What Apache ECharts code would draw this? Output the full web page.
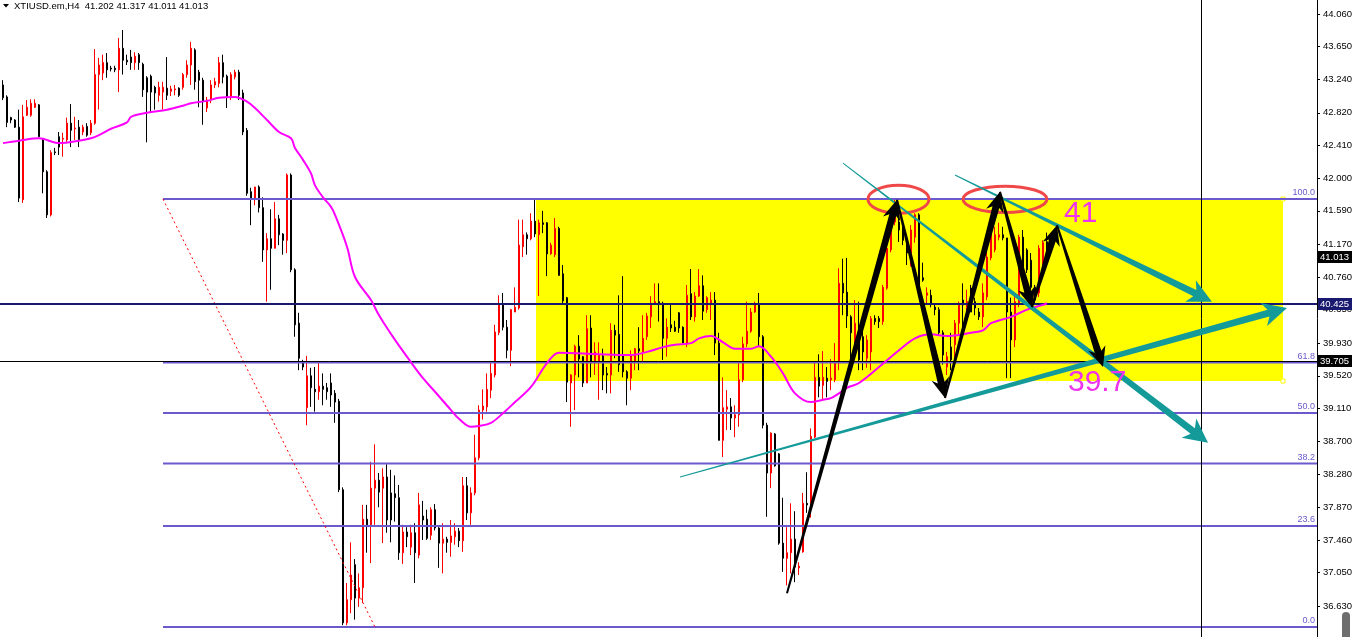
<!DOCTYPE html>
<html>
<head>
<meta charset="utf-8">
<title>XTIUSD.em,H4</title>
<script src="https://cdn.jsdelivr.net/npm/echarts@6.0.0/dist/echarts.min.js"></script>
<style>
html, body { margin: 0; padding: 0; background: #fff; }
#chart { width: 1352px; height: 637px; }
</style>
</head>
<body>
<div id="chart"></div>
<script>
// H4 bars (oldest first)
const opens = [
  43.17, 43.02, 42.76, 42.73, 42.64, 41.73, 42.79, 42.79, 42.89, 42.92,
  42.48, 42.08, 41.54, 42.33, 42.52, 42.49, 42.48, 42.69, 42.62, 42.64,
  42.58, 42.65, 42.57, 42.69, 43.30, 43.32, 43.45, 43.38, 43.38, 43.36,
  43.63, 43.48, 43.52, 43.45, 43.55, 43.43, 43.26, 43.28, 43.14, 43.04,
  43.08, 43.13, 43.09, 43.11, 43.13, 43.14, 43.30, 43.42, 43.61, 43.33,
  43.23, 42.88, 42.98, 43.17, 43.19, 43.45, 43.28, 43.02, 43.27, 43.33,
  43.07, 42.60, 41.83, 41.73, 41.89, 41.63, 41.10, 41.24, 41.12, 41.49,
  41.30, 41.22, 42.04, 40.85, 40.18, 39.69, 39.12, 39.52, 39.35, 39.32,
  39.39, 39.37, 39.43, 39.30, 39.20, 38.09, 36.42, 36.71, 37.15, 36.73,
  36.86, 37.72, 37.65, 38.11, 38.21, 38.11, 38.25, 38.05, 38.04, 37.99,
  37.30, 37.56, 37.37, 37.55, 37.27, 37.76, 37.72, 37.52, 37.84, 37.61,
  37.42, 37.47, 37.43, 37.50, 37.57, 37.45, 38.14, 37.80, 38.05, 38.49,
  39.09, 39.13, 39.34, 39.53, 40.06, 40.41, 40.13, 39.84, 40.32, 40.37,
  41.14, 41.29, 41.24, 41.46, 41.29, 41.44, 41.44, 41.05, 41.04, 41.37,
  40.80, 40.50, 39.43, 39.53, 39.89, 39.76, 39.43, 40.12, 39.68, 39.69,
  39.77, 39.55, 39.53, 40.09, 40.04, 39.77, 39.57, 39.49, 39.69, 39.86,
  39.82, 40.01, 40.26, 40.43, 40.45, 40.43, 39.99, 40.16, 40.13, 40.31,
  40.13, 39.93, 40.55, 40.26, 40.52, 40.65, 40.35, 40.43, 40.47, 39.93,
  38.71, 39.10, 39.13, 38.99, 39.03, 39.47, 39.92, 40.08, 40.32, 40.41,
  40.01, 38.90, 38.30, 38.79, 38.54, 37.42, 37.23, 37.30, 37.47, 37.11,
  37.31, 37.92, 37.90, 38.75, 39.50, 39.40, 39.49, 39.47, 39.47, 39.68,
  40.68, 40.57, 40.26, 39.97, 39.97, 40.01, 39.74, 39.82, 40.24, 40.24,
  40.20, 40.62, 41.10, 41.45, 41.45, 41.35, 41.22, 41.06, 41.26, 41.54,
  40.75, 40.53, 40.53, 40.38, 40.35, 40.06, 39.63, 39.88, 39.91, 40.18,
  40.47, 40.38, 40.62, 40.45, 40.32, 40.26, 40.51, 41.00, 41.10, 41.26,
  41.29, 41.25, 40.32, 39.97, 40.43, 41.26, 41.10, 40.97, 40.63, 40.56,
  40.95, 41.202
];
const closes = [
  43.01, 42.70, 42.73, 42.64, 41.75, 42.77, 42.89, 42.94, 42.94, 42.52,
  42.08, 41.54, 42.32, 42.32, 42.39, 42.50, 42.69, 42.60, 42.63, 42.48,
  42.64, 42.54, 42.69, 43.30, 43.42, 43.45, 43.36, 43.37, 43.36, 43.63,
  43.48, 43.46, 43.45, 43.53, 43.45, 43.11, 43.08, 43.08, 43.07, 43.14,
  43.14, 43.04, 43.12, 43.12, 43.04, 43.30, 43.42, 43.63, 43.21, 43.23,
  42.96, 42.98, 43.17, 43.21, 43.45, 43.27, 43.02, 43.30, 43.33, 43.04,
  42.58, 41.81, 41.75, 41.89, 41.63, 41.10, 41.24, 41.12, 41.49, 41.29,
  41.22, 42.04, 40.85, 40.16, 39.74, 39.63, 39.52, 39.37, 39.32, 39.39,
  39.35, 39.32, 39.28, 39.19, 38.09, 36.42, 36.71, 37.02, 36.73, 36.86,
  37.72, 37.65, 38.11, 38.21, 38.06, 38.25, 37.71, 37.71, 37.99, 37.30,
  37.56, 37.50, 37.55, 37.30, 37.90, 37.71, 37.48, 37.84, 37.61, 37.42,
  37.47, 37.43, 37.51, 37.57, 37.45, 38.14, 37.80, 38.05, 38.49, 39.09,
  39.14, 39.35, 39.55, 40.07, 40.41, 40.13, 39.84, 40.35, 40.38, 41.16,
  41.29, 41.24, 41.46, 41.30, 41.44, 41.42, 41.05, 41.16, 41.37, 40.78,
  40.46, 39.44, 39.53, 39.89, 39.73, 39.43, 40.11, 39.68, 39.82, 39.78,
  39.53, 39.53, 40.09, 40.03, 39.66, 39.57, 39.49, 39.77, 39.86, 39.83,
  39.99, 40.27, 40.43, 40.45, 40.43, 39.99, 40.13, 40.12, 40.08, 40.12,
  39.93, 40.53, 40.26, 40.52, 40.65, 40.33, 40.50, 40.47, 39.93, 38.71,
  39.12, 39.13, 38.99, 39.03, 39.47, 39.92, 40.08, 40.32, 40.41, 40.01,
  38.90, 38.30, 38.80, 38.39, 37.42, 37.23, 37.30, 37.47, 37.12, 37.13,
  37.92, 37.90, 38.76, 39.50, 39.39, 39.50, 39.45, 39.49, 39.68, 40.68,
  40.56, 40.27, 40.06, 40.18, 39.72, 39.82, 39.97, 40.24, 40.20, 40.20,
  40.63, 41.12, 41.48, 41.56, 41.35, 41.22, 41.06, 41.35, 41.54, 40.60,
  40.72, 40.56, 40.43, 40.35, 40.06, 39.78, 39.76, 39.72, 40.18, 40.43,
  40.41, 40.45, 40.32, 40.37, 40.26, 40.56, 41.01, 41.29, 41.29, 41.29,
  41.25, 40.32, 39.97, 40.45, 41.26, 40.88, 40.85, 40.63, 40.47, 41.12,
  41.19, 41.013
];
const lows = [
  42.98, 42.64, 42.69, 42.63, 41.70, 41.69, 42.78, 42.77, 42.88, 42.52,
  41.81, 41.50, 41.52, 42.29, 42.29, 42.27, 42.44, 42.39, 42.48, 42.39,
  42.54, 42.52, 42.54, 42.67, 42.86, 43.23, 43.26, 43.34, 43.33, 43.08,
  43.30, 43.42, 43.36, 43.36, 43.36, 43.02, 42.45, 42.82, 42.86, 42.96,
  42.86, 42.98, 43.03, 43.04, 43.02, 43.11, 43.26, 43.17, 43.11, 42.89,
  42.67, 42.83, 42.94, 43.13, 43.14, 43.19, 42.88, 42.98, 43.24, 42.98,
  42.54, 41.78, 41.41, 41.66, 41.57, 40.95, 40.45, 40.60, 41.12, 41.16,
  41.04, 41.06, 40.82, 40.01, 39.59, 39.59, 38.90, 39.13, 39.07, 39.22,
  39.15, 39.22, 39.13, 38.93, 38.06, 36.39, 36.39, 36.54, 36.46, 36.62,
  36.67, 37.30, 37.17, 37.65, 37.87, 37.42, 37.55, 37.43, 37.69, 37.21,
  37.16, 37.37, 37.27, 36.92, 37.23, 37.46, 37.46, 37.46, 37.58, 37.11,
  37.04, 37.30, 37.25, 37.40, 37.37, 37.31, 37.71, 37.65, 38.02, 38.46,
  38.97, 39.07, 39.24, 39.50, 40.03, 40.09, 39.74, 39.64, 40.32, 40.35,
  41.01, 41.04, 41.22, 41.26, 40.52, 41.31, 40.77, 41.04, 41.01, 40.78,
  40.41, 39.19, 38.88, 39.09, 39.50, 39.38, 39.43, 39.50, 39.53, 39.22,
  39.34, 39.30, 39.30, 39.74, 39.57, 39.50, 39.15, 39.34, 39.59, 39.59,
  39.69, 39.97, 40.12, 40.43, 40.20, 39.72, 39.76, 40.07, 40.07, 40.06,
  39.93, 39.88, 40.22, 40.20, 40.51, 40.22, 40.31, 40.22, 39.78, 38.71,
  38.50, 38.84, 38.84, 38.75, 38.88, 39.44, 39.88, 40.06, 40.31, 39.88,
  38.86, 37.75, 38.11, 38.38, 37.40, 37.06, 36.89, 37.04, 36.93, 37.02,
  37.30, 37.80, 37.74, 38.74, 39.25, 39.23, 39.25, 39.34, 39.44, 39.59,
  40.28, 40.12, 39.63, 39.78, 39.59, 39.59, 39.62, 39.59, 40.16, 40.12,
  40.16, 40.60, 41.07, 41.41, 41.20, 41.16, 40.91, 40.89, 41.19, 40.57,
  40.70, 40.43, 40.38, 40.28, 40.03, 39.66, 39.53, 39.59, 39.72, 40.03,
  40.13, 40.28, 40.32, 40.28, 40.22, 40.13, 40.47, 40.97, 41.07, 41.22,
  41.22, 39.49, 39.49, 39.88, 40.38, 40.85, 40.81, 40.60, 40.43, 40.51,
  40.91, 41.011
];
const highs = [
  43.23, 43.04, 42.77, 42.74, 42.86, 42.92, 42.98, 42.99, 42.99, 42.93,
  42.50, 42.10, 42.35, 42.38, 42.58, 42.57, 42.76, 42.93, 42.77, 42.73,
  42.67, 42.69, 42.73, 43.62, 43.51, 43.55, 43.57, 43.41, 43.41, 43.76,
  43.86, 43.55, 43.61, 43.58, 43.57, 43.45, 43.28, 43.30, 43.16, 43.21,
  43.21, 43.52, 43.16, 43.17, 43.14, 43.32, 43.48, 43.71, 43.63, 43.36,
  43.26, 43.02, 43.23, 43.26, 43.52, 43.55, 43.30, 43.33, 43.36, 43.36,
  43.11, 42.63, 41.88, 41.88, 41.91, 41.76, 41.31, 41.61, 41.70, 41.54,
  41.31, 42.06, 42.06, 40.87, 40.31, 39.72, 39.77, 39.62, 39.63, 39.68,
  39.55, 39.43, 39.55, 39.34, 39.23, 38.12, 36.92, 37.43, 37.22, 37.04,
  37.90, 37.90, 38.44, 38.66, 38.30, 38.36, 38.41, 38.34, 38.27, 38.15,
  37.65, 37.62, 37.65, 37.67, 38.05, 37.95, 37.84, 37.87, 37.91, 37.62,
  37.67, 37.50, 37.71, 37.67, 37.61, 38.25, 38.25, 38.12, 38.78, 39.15,
  39.35, 39.55, 39.69, 40.16, 40.53, 40.56, 40.22, 40.36, 40.63, 41.48,
  41.48, 41.32, 41.56, 41.73, 41.48, 41.59, 41.45, 41.19, 41.50, 41.39,
  40.91, 40.51, 39.54, 39.91, 40.03, 39.77, 40.28, 40.28, 39.94, 39.94,
  39.86, 39.63, 40.18, 40.16, 40.53, 40.77, 39.59, 39.84, 39.87, 40.13,
  40.28, 40.31, 40.52, 40.68, 40.68, 40.45, 40.24, 40.41, 40.21, 40.32,
  40.14, 40.66, 40.86, 40.57, 40.86, 40.78, 40.52, 40.57, 40.57, 40.06,
  39.50, 39.34, 39.24, 39.15, 39.69, 40.01, 40.45, 40.37, 40.45, 40.56,
  40.03, 38.93, 38.81, 38.80, 38.55, 37.99, 37.62, 37.92, 37.82, 37.18,
  38.05, 38.31, 38.86, 39.68, 39.79, 39.83, 39.63, 39.73, 39.93, 40.87,
  40.99, 41.00, 40.28, 40.47, 40.45, 40.16, 40.03, 40.27, 40.28, 40.27,
  40.66, 41.22, 41.51, 41.73, 41.60, 41.41, 41.25, 41.41, 41.56, 41.56,
  40.94, 40.63, 40.60, 40.43, 40.38, 40.09, 39.82, 40.06, 40.22, 40.45,
  40.68, 40.60, 40.66, 40.50, 40.37, 40.68, 41.20, 41.32, 41.39, 41.44,
  41.39, 41.25, 40.50, 40.53, 41.29, 41.35, 41.12, 41.06, 40.66, 41.16,
  41.22, 41.317
];

// moving average, read at [bar, price]
const maPoints = [
  [0, 42.44], [4, 42.47], [9, 42.50], [14, 42.44], [19, 42.47], [22, 42.50],
  [24, 42.54], [27, 42.62], [31, 42.70], [32, 42.77], [36, 42.82], [41, 42.86],
  [45, 42.91], [47, 42.94], [51, 42.97], [54, 43.01], [58, 43.02], [61, 42.96],
  [63, 42.88], [66, 42.73], [69, 42.58], [72, 42.50], [73, 42.38], [75, 42.23],
  [77, 42.06], [78, 41.91], [80, 41.76], [82, 41.64], [83, 41.54], [86, 41.14],
  [88, 40.76], [92, 40.47], [94, 40.28], [98, 39.97], [102, 39.69], [105, 39.49],
  [108, 39.32], [112, 39.09], [114, 38.98], [117, 38.88], [119, 38.89], [122, 38.93],
  [125, 39.05], [128, 39.19], [132, 39.38], [136, 39.68], [139, 39.81], [149, 39.79],
  [157, 39.78], [161, 39.82], [165, 39.88], [168, 39.91], [172, 39.93], [174, 39.99],
  [177, 40.02], [180, 39.94], [183, 39.86], [187, 39.86], [189, 39.89], [192, 39.76],
  [195, 39.55], [198, 39.30], [202, 39.19], [205, 39.22], [207, 39.24], [209, 39.30],
  [211, 39.37], [214, 39.43], [219, 39.63], [224, 39.84], [228, 39.99], [232, 40.04],
  [236, 40.02], [242, 40.06], [245, 40.09], [247, 40.18], [252, 40.26], [256, 40.35],
  [260, 40.41], [261, 40.43]
];

const yTicks = [44.06, 43.65, 43.24, 42.82, 42.41, 42.00, 41.59, 41.17, 40.76, 40.35,
  39.93, 39.52, 39.11, 38.70, 38.28, 37.87, 37.46, 37.05, 36.63];

// fibonacci retracement
const fibLevels = [100, 61.8, 50, 38.2, 23.6, 0];
const fibHigh = 41.738;
const fibLow = 36.367;
const fibStart = 40;          // bar slot where the tool is anchored
const fibLowBar = 93;

const priceMarks = [41.013, 40.425, 39.705];   // bid, level, cross
const sessionLine = 299.5;
const yellowZone = [[133.25, 41.738, 320, 39.454]];

// [bar1, price1, bar2, price2]
const tealArrows = [
  [210, 42.19, 301.25, 38.68],
  [238, 42.04, 302.25, 40.45],
  [169.25, 38.25, 321, 40.37]
];
const blackArrows = [
  [196, 36.79, 223.5, 41.73],
  [223.5, 41.73, 235.5, 39.24],
  [235.5, 39.24, 249.25, 41.83],
  [249.25, 41.83, 257.25, 40.38],
  [257.25, 40.38, 263.5, 41.41],
  [263.5, 41.41, 275, 39.63]
];
const ellipses = [
  [216.25, 41.91, 231.5, 41.56],
  [240, 41.90, 261, 41.57]
];
const noteTexts = ['41', '39.7'];
const notePoints = [[265.25, 41.56], [266.25, 39.43]];

const SLOTS = 329;
const categories = Array.from({ length: SLOTS }, (_, i) => String(i));
const AXIS_END = SLOTS - 0.5;
const Y_MIN = 36.242, Y_MAX = 44.236;
const FONT = '"Liberation Sans", Arial, sans-serif';
const TEAL = '#159a9a';
const FIB_COLOR = '#6a5acd';

const candleData = opens.map((o, i) => [o, closes[i], lows[i], highs[i]]);
const last = opens.length - 1;
const title = 'XTIUSD.em,H4  ' +
  [opens[last], highs[last], lows[last], closes[last]].map(v => v.toFixed(3)).join(' ');

function arrowRenderer(startW, endW, headLen, headHalf, color) {
  return function (params, api) {
    const a = api.coord([api.value(0), api.value(1)]);
    const b = api.coord([api.value(2), api.value(3)]);
    const dx = b[0] - a[0], dy = b[1] - a[1];
    const len = Math.sqrt(dx * dx + dy * dy);
    const ux = dx / len, uy = dy / len, nx = -uy, ny = ux;
    const bx = b[0] - ux * headLen, by = b[1] - uy * headLen;
    const nb = 0.2 * headLen;
    return {
      type: 'polygon',
      shape: { points: [
        [a[0] + nx * startW / 2, a[1] + ny * startW / 2],
        [bx + ux * nb + nx * endW / 2, by + uy * nb + ny * endW / 2],
        [bx + nx * headHalf, by + ny * headHalf],
        [b[0], b[1]],
        [bx - nx * headHalf, by - ny * headHalf],
        [bx + ux * nb - nx * endW / 2, by + uy * nb - ny * endW / 2],
        [a[0] - nx * startW / 2, a[1] - ny * startW / 2]
      ] },
      style: { fill: color }
    };
  };
}

const quad = { x: [0, 2], y: [1, 3] };

const chart = echarts.init(document.getElementById('chart'));
chart.setOption({
  animation: false,
  backgroundColor: '#ffffff',
  grid: { left: 1, right: 35, top: 0, bottom: 0, containLabel: false, outerBoundsMode: 'none' },
  xAxis: [
    { type: 'category', data: categories, boundaryGap: true, show: false },
    { type: 'value', min: -0.5, max: AXIS_END, show: false }
  ],
  yAxis: {
    type: 'value', position: 'right', min: Y_MIN, max: Y_MAX,
    axisLine: { show: true, onZero: false, lineStyle: { color: '#000', width: 1 } },
    axisTick: { show: true, length: 3, customValues: yTicks, lineStyle: { color: '#000' } },
    axisLabel: {
      customValues: yTicks, margin: 6, color: '#000', fontSize: 9.5, fontFamily: FONT,
      formatter: v => v.toFixed(3)
    },
    splitLine: { show: false }
  },
  graphic: [
    { type: 'polygon', shape: { points: [[3, 4], [9, 4], [6, 7.5]] }, style: { fill: '#000' } },
    { type: 'text', x: 14, y: 1, style: { text: title, fill: '#000', font: '9.5px ' + FONT } },
    { type: 'rect', shape: { x: 1342, y: 612, width: 8, height: 32, r: 4 }, style: { fill: '#6e6e6e' } }
  ],
  series: [
    {
      type: 'custom', name: 'zone', xAxisIndex: 1, yAxisIndex: 0, z: 1,
      data: yellowZone, encode: quad,
      renderItem: function (params, api) {
        const p1 = api.coord([api.value(0), api.value(1)]);
        const p2 = api.coord([api.value(2), api.value(3)]);
        return {
          type: 'group', children: [
            { type: 'rect', shape: { x: p1[0], y: p1[1], width: p2[0] - p1[0], height: p2[1] - p1[1] },
              style: { fill: '#ffff00' } },
            { type: 'rect', shape: { x: p2[0] - 2, y: p1[1] - 2, width: 4, height: 4 },
              style: { fill: '#fff', stroke: '#ffff00', lineWidth: 1 } },
            { type: 'rect', shape: { x: p2[0] - 2, y: p2[1] - 2, width: 4, height: 4 },
              style: { fill: '#fff', stroke: '#ffff00', lineWidth: 1 } }
          ]
        };
      }
    },
    {
      type: 'candlestick', name: 'XTIUSD', xAxisIndex: 0, yAxisIndex: 0, z: 2,
      data: candleData, barWidth: 2.4,
      itemStyle: { color: '#ff0000', color0: '#000000', borderColor: '#ff0000', borderColor0: '#000000', borderWidth: 1 }
    },
    {
      type: 'custom', name: 'fibo', xAxisIndex: 1, yAxisIndex: 0, z: 3,
      data: fibLevels.map(l => [fibStart, l]),
      renderItem: function (params, api) {
        const lvl = api.value(1);
        const price = fibLow + (fibHigh - fibLow) * lvl / 100;
        const a = api.coord([api.value(0), price]);
        const b = api.coord([AXIS_END, price]);
        return {
          type: 'group', children: [
            { type: 'line', shape: { x1: a[0], y1: a[1], x2: b[0], y2: b[1] },
              style: { stroke: FIB_COLOR, lineWidth: 2 } },
            { type: 'text', x: b[0] - 2, y: b[1] - 2,
              style: { text: lvl.toFixed(1), fill: FIB_COLOR, font: '9px ' + FONT, align: 'right', verticalAlign: 'bottom' } }
          ]
        };
      }
    },
    {
      type: 'custom', name: 'fibTrend', xAxisIndex: 1, yAxisIndex: 0, z: 3,
      data: [[fibStart, fibHigh, fibLowBar, fibLow]], encode: quad,
      renderItem: function (params, api) {
        const a = api.coord([api.value(0), api.value(1)]);
        const b = api.coord([api.value(2), api.value(3)]);
        return { type: 'line', shape: { x1: a[0], y1: a[1], x2: b[0], y2: b[1] },
          style: { stroke: '#ff0000', lineWidth: 1, lineDash: [2, 3] } };
      }
    },
    {
      type: 'custom', name: 'session', xAxisIndex: 1, yAxisIndex: 0, z: 3,
      data: [[sessionLine, Y_MAX]],
      renderItem: function (params, api) {
        const x = Math.round(api.coord([api.value(0), Y_MAX])[0]) + 0.5;
        const cs = params.coordSys;
        return { type: 'line', shape: { x1: x, y1: cs.y, x2: x, y2: cs.y + cs.height },
          style: { stroke: '#000', lineWidth: 1 } };
      }
    },
    {
      type: 'custom', name: 'prices', xAxisIndex: 1, yAxisIndex: 0, z: 4,
      data: priceMarks.map((p, i) => [i, p]),
      renderItem: function (params, api) {
        const i = api.value(0);
        const p = api.value(1);
        const a = api.coord([-0.5, p]);
        const b = api.coord([AXIS_END, p]);
        const lineW = [0, 2, 1][i];
        const col = ['#000000', '#191970', '#000000'][i];
        const kids = [];
        if (lineW) {
          const y = lineW === 1 ? Math.round(b[1]) + 0.5 : Math.round(b[1]);
          kids.push({ type: 'line', shape: { x1: a[0] - 1, y1: y, x2: b[0], y2: y },
            style: { stroke: col, lineWidth: lineW } });
        }
        kids.push({ type: 'rect', shape: { x: b[0] + 1, y: Math.round(b[1]) - 6, width: 34, height: 12 },
          style: { fill: col } });
        kids.push({ type: 'text', x: b[0] + 3, y: Math.round(b[1]),
          style: { text: p.toFixed(3), fill: '#fff', font: '9.5px ' + FONT, verticalAlign: 'middle' } });
        return { type: 'group', children: kids };
      }
    },
    {
      type: 'line', name: 'MA', xAxisIndex: 1, yAxisIndex: 0, z: 5,
      data: maPoints, symbol: 'none', smooth: 0.35,
      lineStyle: { color: '#ff00ff', width: 2 }
    },
    {
      type: 'custom', name: 'ellipses', xAxisIndex: 1, yAxisIndex: 0, z: 6,
      data: ellipses, encode: quad,
      renderItem: function (params, api) {
        const a = api.coord([api.value(0), api.value(1)]);
        const b = api.coord([api.value(2), api.value(3)]);
        return { type: 'ellipse',
          shape: { cx: (a[0] + b[0]) / 2, cy: (a[1] + b[1]) / 2, rx: (b[0] - a[0]) / 2, ry: (b[1] - a[1]) / 2 },
          style: { fill: 'none', stroke: '#f04848', lineWidth: 3 } };
      }
    },
    {
      type: 'custom', name: 'teal', xAxisIndex: 1, yAxisIndex: 0, z: 7,
      data: tealArrows, encode: quad,
      renderItem: arrowRenderer(1, 7, 24, 12, TEAL)
    },
    {
      type: 'custom', name: 'path', xAxisIndex: 1, yAxisIndex: 0, z: 8,
      data: blackArrows, encode: quad,
      renderItem: arrowRenderer(2, 7, 20, 9, '#000000')
    },
    {
      type: 'custom', name: 'notes', xAxisIndex: 1, yAxisIndex: 0, z: 8,
      data: notePoints.map((p, i) => [p[0], p[1], i]),
      renderItem: function (params, api) {
        const c = api.coord([api.value(0), api.value(1)]);
        return { type: 'text', x: c[0], y: c[1],
          style: { text: noteTexts[api.value(2)], fill: '#ee33ee', font: '30px ' + FONT, verticalAlign: 'middle' } };
      }
    }
  ]
});
</script>
</body>
</html>
